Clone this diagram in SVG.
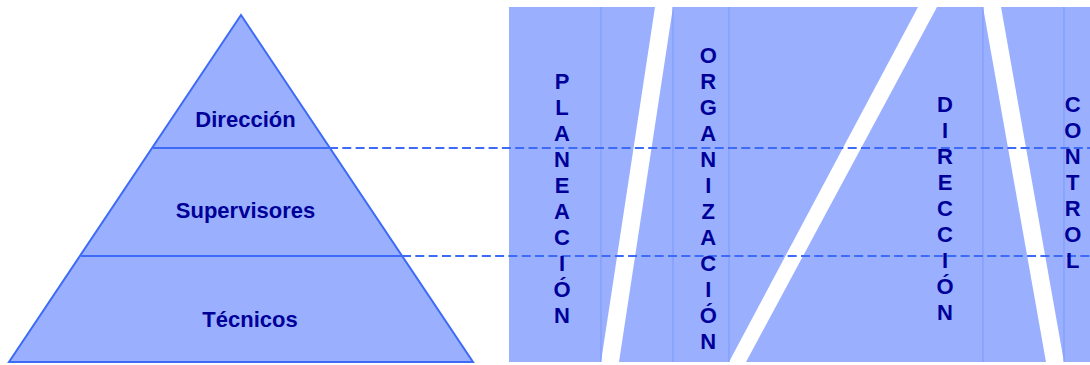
<svg xmlns="http://www.w3.org/2000/svg" width="1090" height="365" viewBox="0 0 1090 365">
<style>
.fill{fill:#9AB0FF;}
.edge{stroke:#3D6BF5;stroke-width:2;fill:none;}
.thin{stroke:#7C97FA;stroke-width:1;fill:none;}
.dash{stroke:#3D6BF5;stroke-width:2;stroke-dasharray:9 4.3;fill:none;}
.lbl{font-family:"Liberation Sans",Arial,sans-serif;font-weight:bold;font-size:22px;fill:#000099;text-anchor:middle;}
</style>
<rect width="1090" height="365" fill="#FFFFFF"/>
<g id="columns">
<polygon class="fill" points="509,7 655,7 601,362 509,362"/>
<polygon class="fill" points="673,7 918,7 729,362 619,362"/>
<polygon class="fill" points="937,7 983,7 1046,362 746,362"/>
<polygon class="fill" points="1001,7 1090,7 1090,362 1064,362"/>
<line class="thin" x1="601" y1="7" x2="601" y2="362"/>
<line class="thin" x1="673" y1="7" x2="673" y2="362"/>
<line class="thin" x1="729" y1="7" x2="729" y2="362"/>
<line class="thin" x1="983" y1="7" x2="983" y2="362"/>
<line class="thin" x1="1064" y1="7" x2="1064" y2="362"/>
</g>
<g id="pyramid">
<polygon class="fill" points="241,15 473,362 9,362"/>
<polygon class="edge" points="241,15 473,362 9,362"/>
<line class="edge" x1="153" y1="148" x2="329" y2="148"/>
<line class="edge" x1="81" y1="256" x2="402" y2="256"/>
</g>
<g id="connectors">
<line class="dash" x1="329" y1="148" x2="1090" y2="148"/>
<line class="dash" x1="402" y1="256" x2="1090" y2="256"/>
</g>
<g id="node-direccion"><text class="lbl" x="245.5" y="127">Dirección</text></g>
<g id="node-supervisores"><text class="lbl" x="245.5" y="218">Supervisores</text></g>
<g id="node-tecnicos"><text class="lbl" x="250" y="327">Técnicos</text></g>
<g id="col-planeacion">
<text class="lbl" x="562">
<tspan x="562" y="89.3">P</tspan><tspan x="562" y="115.3">L</tspan><tspan x="562" y="141.3">A</tspan><tspan x="562" y="167.3">N</tspan><tspan x="562" y="193.3">E</tspan><tspan x="562" y="219.3">A</tspan><tspan x="562" y="245.3">C</tspan><tspan x="562" y="271.3">I</tspan><tspan x="562" y="297.3">Ó</tspan><tspan x="562" y="323.3">N</tspan>
</text>
</g>
<g id="col-organizacion">
<text class="lbl" x="708.3">
<tspan x="708.3" y="63.3">O</tspan><tspan x="708.3" y="89.3">R</tspan><tspan x="708.3" y="115.3">G</tspan><tspan x="708.3" y="141.3">A</tspan><tspan x="708.3" y="167.3">N</tspan><tspan x="708.3" y="193.3">I</tspan><tspan x="708.3" y="219.3">Z</tspan><tspan x="708.3" y="245.3">A</tspan><tspan x="708.3" y="271.3">C</tspan><tspan x="708.3" y="297.3">I</tspan><tspan x="708.3" y="323.3">Ó</tspan><tspan x="708.3" y="349.3">N</tspan>
</text>
</g>
<g id="col-direccion">
<text class="lbl" x="945">
<tspan x="945" y="111.7">D</tspan><tspan x="945" y="137.7">I</tspan><tspan x="945" y="163.7">R</tspan><tspan x="945" y="189.7">E</tspan><tspan x="945" y="215.7">C</tspan><tspan x="945" y="241.7">C</tspan><tspan x="945" y="267.7">I</tspan><tspan x="945" y="293.7">Ó</tspan><tspan x="945" y="319.7">N</tspan>
</text>
</g>
<g id="col-control">
<text class="lbl" x="1072.7">
<tspan x="1072.7" y="112.3">C</tspan><tspan x="1072.7" y="138.3">O</tspan><tspan x="1072.7" y="164.3">N</tspan><tspan x="1072.7" y="190.3">T</tspan><tspan x="1072.7" y="216.3">R</tspan><tspan x="1072.7" y="242.3">O</tspan><tspan x="1072.7" y="268.3">L</tspan>
</text>
</g>
</svg>
